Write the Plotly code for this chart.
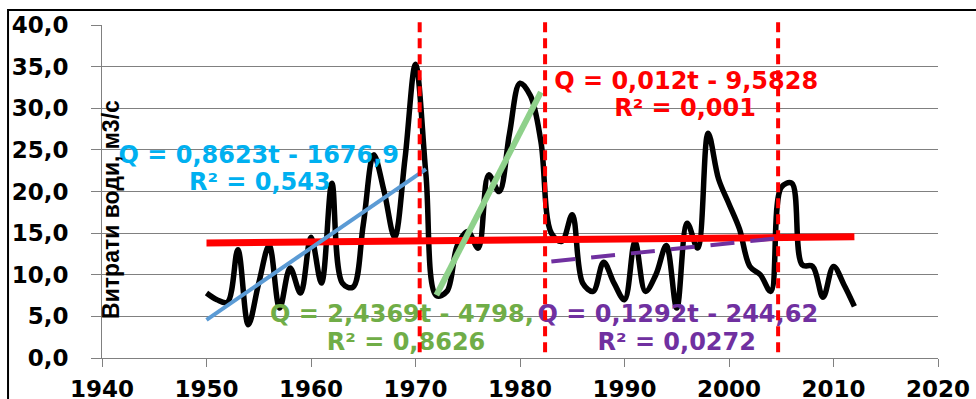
import plotly.graph_objects as go

# ---------------- data ----------------
years = list(range(1950, 2013))
discharge = [7.8, 7.0, 6.7, 13.0, 4.0, 9.0, 13.5, 6.0, 10.8, 7.8,
             14.5, 9.0, 21.0, 9.0, 8.5, 16.0, 24.4, 20.0, 14.5, 24.0,
             35.3, 22.0, 7.5, 8.0, 13.5, 15.2, 13.2, 22.0, 20.0, 27.0,
             33.0, 31.5, 26.0, 15.0, 14.0, 17.2, 9.0, 8.0, 11.5, 9.0,
             7.0, 14.0, 8.0, 10.0, 13.5, 6.0, 16.2, 13.2, 27.0, 21.5,
             18.5, 15.5, 11.0, 10.0, 8.0, 20.5, 21.0, 11.2, 11.0, 7.3,
             11.0, 8.8, 6.2]

# trend lines: (slope, intercept, start year, end year)
trend_all = (0.012, -9.5828, 1950, 2012)
trend_1 = (0.8623, -1676.9, 1950, 1971)
trend_2 = (2.4369, -4798.0, 1972, 1982)
trend_3 = (0.1292, -244.62, 1983, 2005)

# break years (vertical dashed lines)
breaks = [1970.4, 1982.4, 2004.7]

x_ticks = [1940, 1950, 1960, 1970, 1980, 1990, 2000, 2010, 2020]
y_ticks = [0, 5, 10, 15, 20, 25, 30, 35, 40]

# equation labels
lbl_blue = ["Q = 0,8623t - 1676,9", "R² = 0,543"]
lbl_red = ["Q = 0,012t - 9,5828", "R² = 0,001"]
lbl_green = ["Q = 2,4369t - 4798,", "R² = 0,8626"]
lbl_purple = ["Q = 0,1292t - 244,62", "R² = 0,0272"]

y_title = "Витрати води, м3/с"

# ---------------- figure ----------------
def trend_xy(tr):
    a, b, t0, t1 = tr
    xs = [t0, t1]
    return xs, [a * t + b for t in xs]

fig = go.Figure()

fig.add_trace(go.Scatter(x=years, y=discharge, mode="lines",
                         line=dict(color="black", width=5.5, shape="spline", smoothing=1.0),
                         showlegend=False, hoverinfo="skip"))

for tr, col, w, dash in [(trend_all, "#FF0000", 7, None),
                         (trend_1, "#5B9BD5", 4, None),
                         (trend_2, "#8FD18B", 6, None),
                         (trend_3, "#7030A0", 4, "24px,16px")]:
    xs, ys = trend_xy(tr)
    fig.add_trace(go.Scatter(x=xs, y=ys, mode="lines",
                             line=dict(color=col, width=w, dash=dash),
                             showlegend=False, hoverinfo="skip"))

TF = "DejaVu Sans"

def add_label(lines, xs, ys, color):
    fig.add_trace(go.Scatter(x=xs, y=ys, text=lines, mode="text",
                             textposition="middle center", cliponaxis=False,
                             textfont=dict(family=TF, size=24, color=color, weight="bold"),
                             showlegend=False, hoverinfo="skip"))

add_label(lbl_blue, [1955.0, 1955.1], [24.1, 20.9], "#00B0F0")
add_label(lbl_red, [1995.9, 1995.8], [33.0, 29.8], "#FF0000")
add_label(lbl_green, [1968.7, 1969.1], [5.05, 1.7], "#70AD47")
add_label(lbl_purple, [1995.1, 1995.0], [5.05, 1.7], "#7030A0")

shapes = []
for b in breaks:
    shapes.append(dict(type="line", xref="x", yref="paper", x0=b, x1=b,
                       y0=0.7 / 40, y1=40.6 / 40, layer="above",
                       line=dict(color="#FF0000", width=4, dash="10px,6px")))
# outer frame
shapes.append(dict(type="rect", xref="paper", yref="paper",
                   x0=-0.1124, x1=1.06, y0=-0.2, y1=1.045, layer="below",
                   line=dict(color="black", width=2)))

fig.update_layout(
    width=976, height=399,
    margin=dict(l=102, r=38, t=25, b=41, autoexpand=False),
    paper_bgcolor="white", plot_bgcolor="white",
    separators=", ",
    shapes=shapes,
    annotations=[dict(text=y_title, xref="paper", yref="paper",
                      x=0.0105, y=0.447, textangle=-90, showarrow=False,
                      xanchor="center", yanchor="middle",
                      font=dict(family="Liberation Sans", size=23, color="black", weight="bold"))],
)

fig.update_xaxes(range=[1940, 2020], tickvals=x_ticks, tickformat="d", automargin=False,
                 showgrid=False, zeroline=False,
                 showline=True, linecolor="#808080", linewidth=1,
                 ticks="outside", ticklen=8, tickcolor="#808080", tickwidth=1,
                 tickfont=dict(family=TF, size=23, color="black", weight="bold"),
                 ticklabelstandoff=2)
fig.update_yaxes(range=[0, 40], tickvals=y_ticks, tickformat=".1f", automargin=False,
                 showgrid=True, gridcolor="#808080", gridwidth=1, zeroline=False,
                 showline=True, linecolor="#808080", linewidth=1,
                 ticks="outside", ticklen=10, tickcolor="#808080", tickwidth=1,
                 tickfont=dict(family=TF, size=23, color="black", weight="bold"),
                 ticklabelstandoff=18)

fig.write_html("out.html")
